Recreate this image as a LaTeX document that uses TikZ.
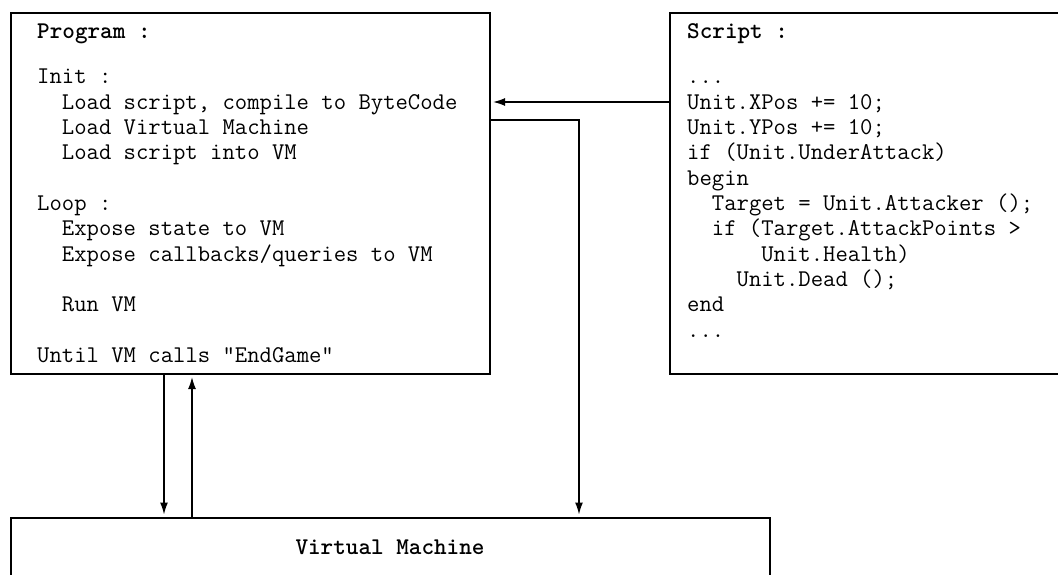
\documentclass[tikz,border=0pt]{standalone}
\usetikzlibrary{arrows.meta}
\begin{document}
\begin{tikzpicture}[x=1pt,y=-1pt,
  box/.style={draw, line width=1.6pt, inner sep=0pt, anchor=north west},
  txt/.style={anchor=base west, inner sep=0pt, font=\ttfamily\fontsize{24}{25}\selectfont},
  ttl/.style={anchor=base west, inner sep=0pt, font=\ttfamily\bfseries\fontsize{24}{25}\selectfont},
  conn/.style={line width=1.4pt, shorten >=2.5pt, -{Latex[length=12pt,width=8pt]}}]
\useasboundingbox (0,0) rectangle (1058,575);
\clip (0,0) rectangle (1058,575);
% boxes
\node[box, minimum width=479pt, minimum height=361pt] (prog) at (10,12) {};
\node[box, minimum width=430pt, minimum height=361pt] (script) at (669,12) {};
\node[box, minimum width=759pt, minimum height=120pt] (vm) at (10,517) {};
% program text
\node[ttl] (pt) at (37,39) {Program :};
\node[txt] (p1) at (37,84) {Init :};
\node[txt] (p2) at (37,109.3) {\phantom{xx}Load script, compile to ByteCode};
\node[txt] (p3) at (37,134.6) {\phantom{xx}Load Virtual Machine};
\node[txt] (p4) at (37,159.9) {\phantom{xx}Load script into VM};
\node[txt] (p5) at (37,210.5) {Loop :};
\node[txt] (p6) at (37,235.8) {\phantom{xx}Expose state to VM};
\node[txt] (p7) at (37,261.1) {\phantom{xx}Expose callbacks/queries to VM};
\node[txt] (p8) at (37,311.7) {\phantom{xx}Run VM};
\node[txt] (p9) at (37,362.3) {Until VM calls "EndGame"};
% script text
\node[ttl] (st) at (687,39) {Script :};
\node[txt] (s1) at (687,84) {...};
\node[txt] (s2) at (687,109.3) {Unit.XPos += 10;};
\node[txt] (s3) at (687,134.6) {Unit.YPos += 10;};
\node[txt] (s4) at (687,159.9) {if (Unit.UnderAttack)};
\node[txt] (s5) at (687,185.2) {begin};
\node[txt] (s6) at (687,210.5) {\phantom{xx}Target = Unit.Attacker ();};
\node[txt] (s7) at (687,235.8) {\phantom{xx}if (Target.AttackPoints >};
\node[txt] (s8) at (687,261.1) {\phantom{xxxxxx}Unit.Health)};
\node[txt] (s9) at (687,286.4) {\phantom{xxxx}Unit.Dead ();};
\node[txt] (s10) at (687,311.7) {end};
\node[txt] (s11) at (687,337) {...};
% vm text
\node[ttl, anchor=base] (vt) at (390,554) {Virtual Machine};
% connector guides
\coordinate (ya) at (0,102);
\coordinate (yb) at (0,120);
\coordinate (xa) at (164,0);
\coordinate (xb) at (192,0);
\coordinate (xc) at (579,0);
% connectors
\draw[conn] (script.west |- ya) -- (prog.east |- ya);
\draw[conn] (prog.east |- yb) -| (vm.north -| xc);
\draw[conn] (prog.south -| xa) -- (vm.north -| xa);
\draw[conn] (vm.north -| xb) -- (prog.south -| xb);
\end{tikzpicture}
\end{document}
